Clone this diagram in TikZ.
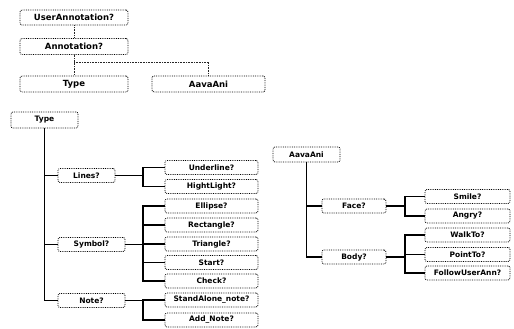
\documentclass[tikz,border=0pt]{standalone}
\usepackage{fontspec}
\setmainfont{DejaVu Sans}
\begin{document}
\begin{tikzpicture}[x=1pt,y=-1pt,
  box/.style={draw=black, densely dotted, line width=0.8pt, rounded corners=2pt,
    inner sep=0pt, font=\bfseries\fontsize{7.5}{8}\selectfont, minimum height=14pt},
  bigbox/.style={box, font=\bfseries\fontsize{8.5}{9}\selectfont, minimum height=16pt},
  conn/.style={draw=black!85, densely dotted, line width=0.6pt},
  tree/.style={draw=black, line width=1.4pt}]
\useasboundingbox (0,0) rectangle (514,329);

% top part
\node[bigbox, minimum width=108pt, minimum height=15pt] (ua) at (74,17.5) {UserAnnotation?};
\node[bigbox, minimum width=108pt] (an) at (74,46.5) {Annotation?};
\node[bigbox, minimum width=108pt] (ty1) at (74,84) {Type};
\node[bigbox, minimum width=113pt] (aa1) at (208.5,84) {AavaAni};
\coordinate (tj) at (74,62);
\draw[conn] (ua) -- (an);
\draw[conn] (an) -- (ty1);
\draw[conn] (tj) -| (aa1.north);

% Type tree
\node[box, minimum width=67pt, minimum height=16pt] (ty2) at (44.5,120) {Type};
\node[box, minimum width=57pt] (lines) at (86.5,175.5) {Lines?};
\node[box, minimum width=67pt] (sym) at (91.5,244.5) {Symbol?};
\node[box, minimum width=67pt] (note) at (91.5,300.5) {Note?};
\node[box, minimum width=93pt] (und) at (211.5,167.5) {Underline?};
\node[box, minimum width=93pt] (hl) at (211.5,186.5) {HightLight?};
\node[box, minimum width=93pt] (ell) at (211.5,206) {Ellipse?};
\node[box, minimum width=93pt] (rect) at (211.5,225) {Rectangle?};
\node[box, minimum width=93pt] (tri) at (211.5,244) {Triangle?};
\node[box, minimum width=93pt] (start) at (211.5,262.5) {Start?};
\node[box, minimum width=93pt] (chk) at (211.5,281) {Check?};
\node[box, minimum width=93pt] (sa) at (211.5,300) {StandAlone\_note?};
\node[box, minimum width=93pt] (adn) at (211.5,320) {Add\_Note?};
\coordinate (bx) at (143,0);

\draw[tree] (ty2.south) |- (note.west);
\draw[tree] (lines.west) -- (lines.west -| ty2.south);
\draw[tree] (sym.west) -- (sym.west -| ty2.south);

\draw[tree] (lines.east) -- (lines.east -| bx);
\draw[tree] (und.west) -| (lines.east -| bx) |- (hl.west);
\draw[tree] (sym.east) -- (sym.east -| bx);
\draw[tree] (ell.west) -| (sym.east -| bx) |- (chk.west);
\draw[tree] (rect.west) -- (rect.west -| bx);
\draw[tree] (tri.west) -- (tri.west -| bx);
\draw[tree] (start.west) -- (start.west -| bx);
\draw[tree] (note.east) -- (note.east -| bx);
\draw[tree] (sa.west) -| (note.east -| bx) |- (adn.west);

% AavaAni tree
\node[box, minimum width=67pt, minimum height=15pt] (aa2) at (306.5,154.5) {AavaAni};
\node[box, minimum width=64pt] (face) at (354,206) {Face?};
\node[box, minimum width=64pt] (body) at (354,257) {Body?};
\node[box, minimum width=85pt] (smile) at (467.5,196.5) {Smile?};
\node[box, minimum width=85pt] (angry) at (467.5,216) {Angry?};
\node[box, minimum width=85pt] (walk) at (467.5,235) {WalkTo?};
\node[box, minimum width=85pt] (point) at (467.5,254.5) {PointTo?};
\node[box, minimum width=85pt] (follow) at (467.5,273) {FollowUserAnn?};
\coordinate (bx2) at (405,0);

\draw[tree] (aa2.south) |- (body.west);
\draw[tree] (face.west) -- (face.west -| aa2.south);
\draw[tree] (face.east) -- (face.east -| bx2);
\draw[tree] (smile.west) -| (face.east -| bx2) |- (angry.west);
\draw[tree] (body.east) -- (body.east -| bx2);
\draw[tree] (walk.west) -| (body.east -| bx2) |- (follow.west);
\draw[tree] (point.west) -- (point.west -| bx2);
\end{tikzpicture}
\end{document}
